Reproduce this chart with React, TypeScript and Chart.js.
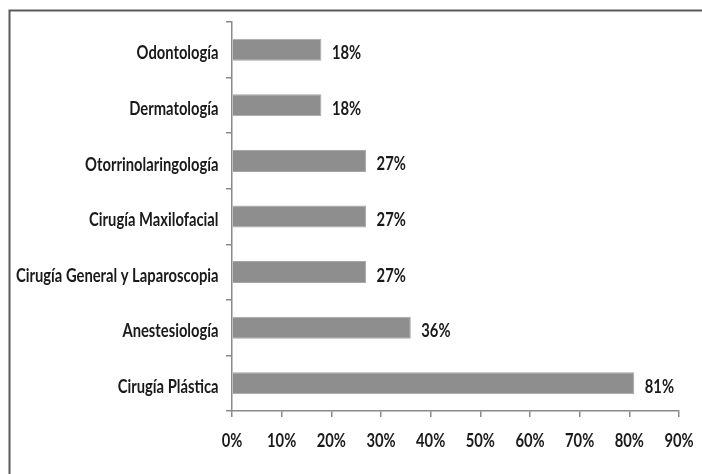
import React, { useEffect, useRef } from "react";
import { Chart, registerables } from "chart.js";

Chart.register(...registerables);

const categories = [
  "Odontología",
  "Dermatología",
  "Otorrinolaringología",
  "Cirugía Maxilofacial",
  "Cirugía General y Laparoscopia",
  "Anestesiología",
  "Cirugía Plástica",
];
const values = [18, 18, 27, 27, 27, 36, 81];
const xTicks = [0, 10, 20, 30, 40, 50, 60, 70, 80, 90];

const FONT = "Lato, 'Liberation Sans', sans-serif";
const TEXT_FONT = `bold 18px ${FONT}`;
const SQUEEZE = 0.82;
const TEXT_COLOR = "#1a1a1a";

function drawText(ctx: any, text: string, x: number, y: number, align: string) {
  ctx.save();
  ctx.translate(x, y);
  ctx.scale(SQUEEZE, 1);
  ctx.font = TEXT_FONT;
  ctx.fillStyle = TEXT_COLOR;
  ctx.textAlign = align;
  ctx.textBaseline = "alphabetic";
  ctx.fillText(text, 0, 0);
  ctx.restore();
}

const frame = {
  id: "frame",
  beforeDraw(chart: any) {
    const ctx = chart.ctx;
    ctx.save();
    ctx.strokeStyle = "#5a5a5a";
    ctx.lineWidth = 2;
    ctx.beginPath();
    ctx.moveTo(9.5, chart.height + 5);
    ctx.lineTo(9.5, 10.5);
    ctx.lineTo(chart.width + 5, 10.5);
    ctx.stroke();
    ctx.restore();
  },
};

const textLabels = {
  id: "textLabels",
  afterDraw(chart: any) {
    const ctx = chart.ctx;
    const meta = chart.getDatasetMeta(0);
    const xs = chart.scales.x;
    const ys = chart.scales.y;
    // value labels
    meta.data.forEach((bar: any, i: number) => {
      drawText(ctx, values[i] + "%", bar.x + 10.5, bar.y + 9.5, "left");
    });
    // category labels
    categories.forEach((c, i) => {
      const y = ys.getPixelForTick(i);
      drawText(ctx, c, ys.right - 13.5, y + 9.6, "right");
    });
    // x labels
    xTicks.forEach((v) => {
      const x = xs.getPixelForValue(v);
      drawText(ctx, v + "%", x, xs.top + 36, "center");
    });
  },
};

export default function App() {
  const ref = useRef<HTMLCanvasElement | null>(null);
  useEffect(() => {
    if (!ref.current) return;
    const zeroPad = (s: any) => {
      s.paddingLeft = 0;
      s.paddingRight = 0;
      s.paddingTop = 0;
      s.paddingBottom = 0;
    };
    const chart = new Chart(ref.current, {
      type: "bar",
      data: {
        labels: categories,
        datasets: [
          {
            data: values,
            backgroundColor: "#8e8e8e",
            borderColor: "#a6a6a6",
            borderWidth: 1,
            categoryPercentage: 1,
            barPercentage: 0.396,
          },
        ],
      },
      options: {
        indexAxis: "y",
        animation: false,
        responsive: false,
        maintainAspectRatio: false,
        layout: { padding: { top: 22, right: 23, left: 0, bottom: 0 } },
        plugins: { legend: { display: false }, tooltip: { enabled: false } },
        scales: {
          x: {
            min: 0,
            max: 90,
            afterBuildTicks: (s: any) => {
              s.ticks = xTicks.map((v) => ({ value: v }));
            },
            afterFit: (s: any) => {
              s.height = 63;
              zeroPad(s);
            },
            border: { display: true, color: "#8a8a8a", width: 1.5 },
            grid: {
              drawOnChartArea: false,
              drawTicks: true,
              tickLength: 6,
              color: "#8a8a8a",
              lineWidth: 1.5,
            },
            ticks: { display: false },
          },
          y: {
            afterFit: (s: any) => {
              s.width = 232;
              zeroPad(s);
            },
            border: { display: true, color: "#8a8a8a", width: 1.5 },
            grid: {
              drawOnChartArea: false,
              drawTicks: true,
              tickLength: 6,
              offset: true,
              color: "#8a8a8a",
              lineWidth: 1.5,
            },
            ticks: { display: false, autoSkip: false },
          },
        },
      },
      plugins: [frame, textLabels],
    });
    return () => chart.destroy();
  }, []);
  return (
    <canvas
      ref={ref}
      width={702}
      height={474}
      style={{ position: "fixed", left: 0, top: 0, width: 702, height: 474, background: "#fff" }}
    />
  );
}
